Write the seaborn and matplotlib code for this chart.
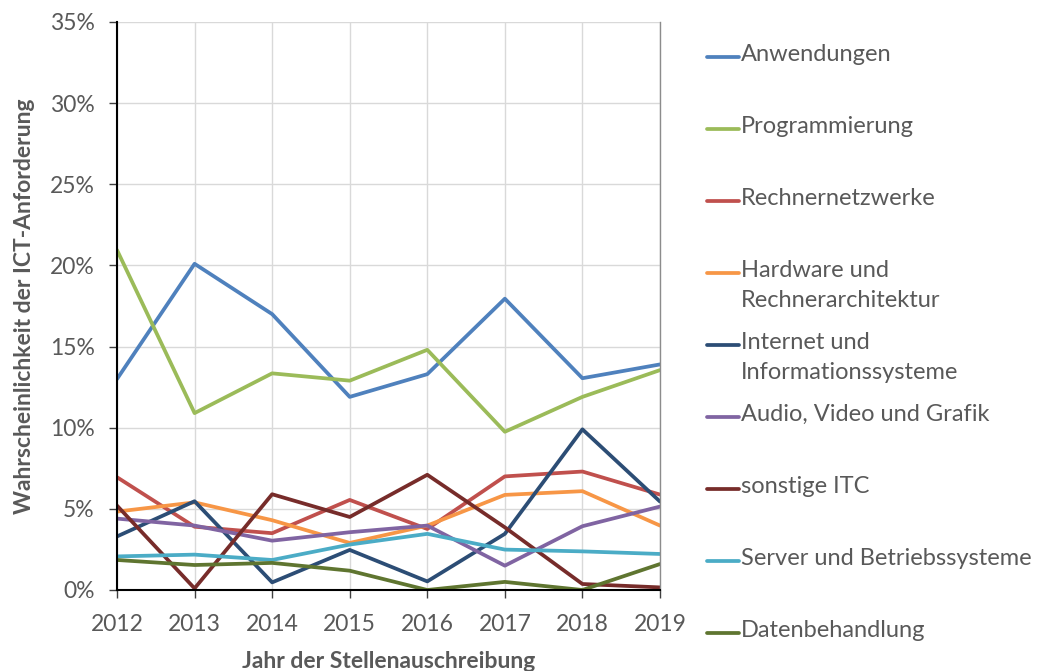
import matplotlib
matplotlib.use('Agg')
import matplotlib.pyplot as plt
from matplotlib.lines import Line2D
from matplotlib.ticker import PercentFormatter
import seaborn as sns
import pandas as pd

sns.set_theme(style='white')
plt.rcParams['font.family'] = ['Lato', 'DejaVu Sans']

years = [2012, 2013, 2014, 2015, 2016, 2017, 2018, 2019]

categories = [
    'Anwendungen',
    'Programmierung',
    'Rechnernetzwerke',
    'Hardware und\nRechnerarchitektur',
    'Internet und\nInformationssysteme',
    'Audio, Video und Grafik',
    'sonstige ITC',
    'Server und Betriebssysteme',
    'Datenbehandlung',
]

# Werte in Prozent
anwendungen = [13.0, 20.1, 17.0, 11.9, 13.3, 17.95, 13.05, 13.9]
programmierung = [20.95, 10.9, 13.35, 12.9, 14.8, 9.75, 11.9, 13.55]
rechnernetzwerke = [6.95, 3.9, 3.5, 5.55, 3.76, 7.0, 7.3, 5.88]
hardware = [4.83, 5.4, 4.3, 2.9, 3.97, 5.86, 6.09, 3.97]
internet = [3.3, 5.47, 0.47, 2.47, 0.53, 3.46, 9.9, 5.45]
audio_video = [4.4, 3.97, 3.04, 3.56, 3.97, 1.5, 3.93, 5.14]
sonstige = [5.2, 0.1, 5.9, 4.5, 7.1, 3.86, 0.37, 0.16]
server = [2.07, 2.18, 1.85, 2.8, 3.46, 2.49, 2.38, 2.22]
daten = [1.85, 1.54, 1.67, 1.19, 0.0, 0.5, 0.0, 1.6]

series = [anwendungen, programmierung, rechnernetzwerke, hardware, internet,
          audio_video, sonstige, server, daten]

colors = ['#4F81BD', '#9BBB59', '#C0504D', '#F79646', '#2C4D75',
          '#8064A2', '#772C2A', '#4BACC6', '#5F7530']

rows = []
for cat, vals in zip(categories, series):
    for yr, v in zip(years, vals):
        rows.append({'Jahr': yr, 'Anteil': v / 100, 'Kategorie': cat})
df = pd.DataFrame(rows)

fig = plt.figure(figsize=(10.38, 6.71), dpi=100)
ax = fig.add_axes([117 / 1038, 1 - 590 / 671, (660 - 117) / 1038, (590 - 22) / 671])

sns.lineplot(data=df, x='Jahr', y='Anteil', hue='Kategorie',
             palette=dict(zip(categories, colors)), hue_order=categories,
             linewidth=2.7, legend=False, ax=ax)

ax.set_xlim(2012, 2019)
ax.set_ylim(0, 0.35)
ax.set_xticks(years)
ax.set_yticks([i * 0.05 for i in range(8)])
ax.yaxis.set_major_formatter(PercentFormatter(1.0, decimals=0))

ax.grid(True, color='#d9d9d9', linewidth=1)
ax.set_axisbelow(True)
ax.spines['top'].set_visible(False)
ax.spines['right'].set_color('#8c8c8c')
ax.spines['right'].set_linewidth(1)
ax.spines['left'].set_color('black')
ax.spines['bottom'].set_color('black')
ax.spines['left'].set_linewidth(1.5)
ax.spines['bottom'].set_linewidth(1.5)

ax.tick_params(axis='both', direction='out', length=6, width=1, color='#404040',
               labelsize=16.5, labelcolor='#595959', bottom=True, left=True)
ax.tick_params(axis='y', pad=10)
ax.tick_params(axis='x', pad=11)

ax.set_xlabel('Jahr der Stellenauschreibung', fontsize=16.5, fontweight='bold',
              color='#595959', labelpad=12)
ax.set_ylabel('Wahrscheinlichkeit der ICT-Anforderung', fontsize=16.5,
              fontweight='bold', color='#595959', labelpad=11)

# Legende rechts, Linie jeweils auf Höhe der ersten Textzeile
for i, (cat, col) in enumerate(zip(categories, colors)):
    y = 1 - (57 + 72 * i) / 671
    fig.add_artist(Line2D([707 / 1038, 739 / 1038], [y, y], color=col,
                          linewidth=2.7, transform=fig.transFigure))
    fig.text(741 / 1038, y + 13 / 671, cat, fontsize=17, color='#595959',
             va='top', ha='left', linespacing=1.55)

fig.savefig('out.png', dpi=100)
